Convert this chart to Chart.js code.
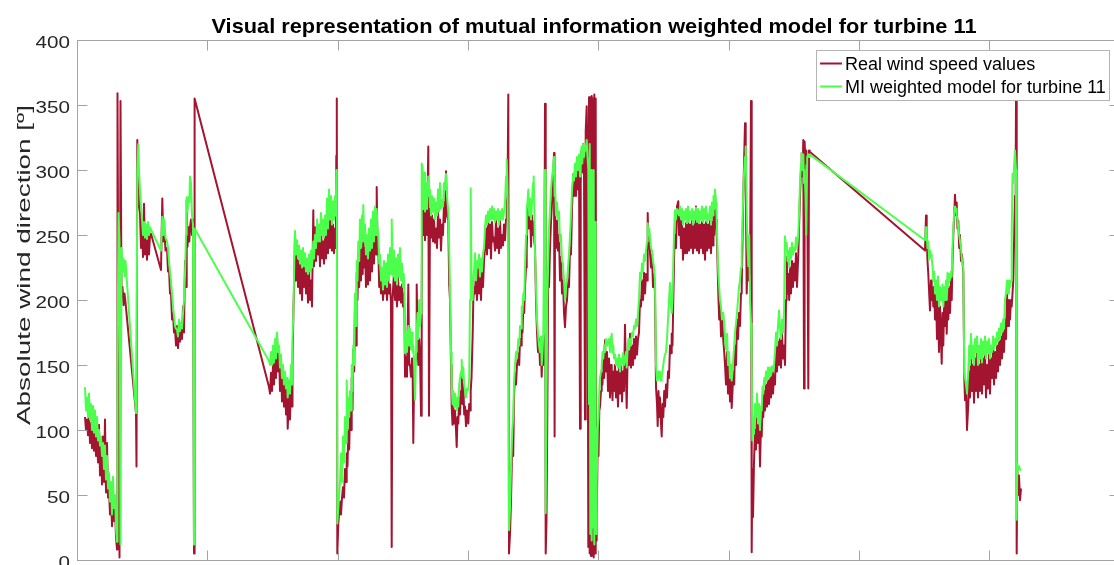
<!DOCTYPE html>
<html>
<head>
<meta charset="utf-8">
<title>MI weighted model – turbine 11</title>
<script src="https://cdn.jsdelivr.net/npm/chart.js@4.4.0/dist/chart.umd.min.js"></script>
<style>
  html, body { margin: 0; padding: 0; background: #fff; width: 1114px; height: 565px; overflow: hidden; }
  canvas { display: block; }
</style>
</head>
<body>
<canvas id="chart" width="1125" height="565"></canvas>
<script>
// Sample position along the record (one unit per sample step on the time axis)
const timeStep = [
  8,9,10,11,12,13,14,15,16,17,
  18,19,20,21,22,23,24,25,26,27,
  28,29,30,31,32,33,34,35,36,37,
  38,39,40,40.5,41.5,42.5,43.5,44.5,45.5,46.5,
  47.5,48.5,59,59.5,60.3,61.3,62,63,64,65,
  66,67,68,69,70,71,72,73,74,84,
  85.3,86.3,87.3,88.5,90,91,92,93,94,95,
  96,97,98,99,100,101,102,103,104,105,
  106,107,108,109,109.7,110.5,111.5,112.3,113,114,
  115,116,117,117.6,192,193,194,195,196,197,
  198,199,200,201,202,203,204,205,206,207,
  208,209,210,210.7,212,213,214,215,215.5,216.5,
  217.3,218,219,220,221,222,223,224,225,226,
  227,228,229,230,231,232,233,234,235,236.3,
  237,238,239,240,241,242,243,244,245,246,
  247,248,249,250,251,252,253,254,255,256,
  257,258,258.8,259.3,259.8,260.3,261.3,263,264,265,
  266,267,268,269,269.7,270.5,271.3,272.2,273,274,
  274.7,275.5,276.3,277.2,278,279,279.7,280.5,281.3,282.2,
  283,284,285,285.7,286.3,287.2,288,289,290,291,
  292,293,294,295,296,297,298,299,299.7,300.5,
  301.3,302.2,303,304,305,306,307,308,309,310,
  311,312,313,314,314.7,315.5,316.3,317,318,319,
  320,321,322,323,324,325,326,326.8,327.5,328,
  329,330,331.3,332.2,333,334,335,335.7,336.3,337.2,
  338,339,339.7,340.5,341.3,342.2,343,344,344.7,345.5,
  346.3,347.2,348,349,350,351.3,352,353,354,355,
  356,357,358,359,360,361,362,363,364,365,
  366,367,368,369,370,371.3,372.2,373,374,374.7,
  375.5,376.3,377.2,378,379,379.7,380.5,381.3,382.2,383,
  384,384.7,385.5,386.3,387.2,388,389,390,391.3,392.2,
  393,393.7,394.5,395.7,396.3,397.2,398,399,400,401,
  402,403,404,405,406,407,408,409,410,411,
  412,413,414,415,416,417,418,419,420,421,
  422,423,424,425,426,427,428,429,429.7,430.5,
  431.3,432,433,434,435.3,436.2,437,438,439,440,
  441.3,442.2,443,444,444.7,445.5,446.3,447.2,448,449,
  449.7,450.5,451.3,452.2,453,454,455,456,456.7,457.3,
  458,459,460,461,462,463,464,464.7,465.5,466.3,
  467.2,468,468.7,469.5,470.3,471.2,472,473,474,475,
  476,477,477.6,478,479,480,481,482,483,484,
  485,486,487,488,489,490,491,492,493,494,
  495,496.3,497,498,499,500,501,502,503,503.7,
  504.5,505.3,506,507,508,508.7,509.7,510.5,511.3,512,
  512.7,513.3,514,514.7,515.3,516,516.7,517.3,518,518.7,
  519.3,519.7,520.7,521.5,522.3,523,524,524.7,525.5,526.3,
  527.2,528,529,530,531,532,533,534,534.7,535.5,
  536.3,537,538,539,540,541,542,543,544,545,
  546,547,548,549,549.7,550.5,551.3,552.2,553,554,
  555,556,557,558,559,560,561,562,563,564,
  565,566,567,568,569,570,570.7,571.5,572.3,573,
  574,575,576,577,578,579,580,580.7,581.5,582.3,
  583,584,584.7,585.5,586.3,587.2,588,589,590,591,
  592,593,594,594.7,595.5,596.3,597.2,598,599,600,
  601.3,602,603,604,605,606,607,608,609,610,
  611,612,613,614,615,616,617,618,619,620,
  621,622,623,624,625,626,627,628,629,630,
  631,632,633,634,635,636,636.5,637.2,638,639,
  639.7,640.5,641.3,642.2,643,644,645,646.3,647.2,648,
  649,650,651,652,653,654,654.7,655.5,656.3,657.2,
  658,659,660,661,662,663,664,664.7,665.5,666.3,
  667.2,668,668.7,669.7,670.5,671.3,672.2,673,674,674.7,
  675.3,676,677,678,679,680,681,682,683,684,
  684.7,685.5,686.3,687.2,688,689,690,691,692,693,
  694,695,696,697,698,699,700,701,702,703,
  704,705,706,707,708,709,709.7,710.5,711.3,712.2,
  713,714,715,716,717,718,719,720,721.3,722.2,
  723,724,724.7,725.5,726.3,727,727.6,728.5,729.3,730.2,
  731.3,732,732.7,848,849,849.7,850.5,851.3,852.2,853,
  854,854.7,855.5,856.3,857.2,858,859,860,861,862,
  863,864,864.7,865.5,866.3,867.2,868,869,869.7,870.5,
  871.3,872.2,873,874,874.7,875.5,876.3,877.2,878,879,
  879.7,880.5,881.3,882.2,883,884,885,886.3,887.3,888,
  889,890,891.3,892.2,893,894,895,896,897,898,
  899,900,901,902,903,904,905,906,907,908,
  909,910,911,912,913,914,915,916,917,918,
  919,920,921,922,923,924,925,926,927,928,
  929,930,931,932,933,934,934.7,935.5,936.3,937.2,
  938,938.7,939,939.7,940.3,941,942,943,944
];

// Measured absolute wind direction [deg]
const realDir = [
  110,100,108,96,112,90,105,86,118,84,
  100,80,98,75,104,65,92,58,95,60,
  108,52,90,48,55,35,50,26,45,30,
  40,18,8,359,158,2,353,205,210,196,
  205,198,113,72,323,297,272,267,240,262,
  233,274,235,256,231,255,235,250,251,223,
  278,245,255,238,240,222,225,205,205,185,
  190,175,178,165,180,163,175,168,182,170,
  195,175,230,210,277,241,256,245,256,262,
  250,262,5,355,133,128,144,130,150,135,
  167,140,174,145,160,130,150,122,148,118,
  140,112,135,101,128,108,140,118,150,195,
  215,251,215,240,210,230,205,235,200,228,
  210,232,205,226,198,225,200,215,195,269,
  226,256,230,248,235,250,226,256,232,245,
  228,252,232,262,236,272,240,265,238,258,
  236,255,240,311,355,5,28,45,35,48,
  56,48,70,60,82,72,100,85,118,100,
  140,115,162,145,200,165,221,200,235,210,
  246,215,240,220,250,225,240,210,235,212,
  245,215,250,222,256,228,265,235,287,240,
  240,210,221,205,218,200,215,205,220,200,
  218,205,212,198,10,200,212,220,200,215,
  195,218,200,210,198,212,195,205,190,141,
  156,141,212,150,150,141,155,140,90,145,
  150,155,212,175,150,170,160,111,200,297,
  250,290,246,275,250,318,111,270,248,265,
  245,262,244,255,240,268,248,262,238,258,
  250,275,260,299,265,261,212,200,150,118,
  104,118,105,115,100,87,110,105,125,112,
  130,144,120,135,112,118,103,115,105,120,
  115,130,140,174,200,210,205,222,200,226,
  205,220,200,225,210,230,240,255,235,262,
  240,258,232,260,245,248,238,262,240,255,
  236,262,240,250,242,258,246,262,275,280,
  358,5,20,45,92,80,125,144,135,150,
  159,150,170,165,179,175,195,190,210,225,
  240,262,279,255,270,241,265,250,260,245,
  241,200,175,160,170,150,162,141,165,150,
  170,351,5,30,110,218,210,240,260,275,
  290,313,95,270,240,261,238,250,215,233,
  205,215,190,179,195,200,215,210,240,235,
  270,297,280,300,280,305,285,310,101,290,
  315,298,320,300,108,330,349,300,10,356,
  5,356,3,357,8,355,2,358,5,355,
  15,30,92,80,115,118,130,146,135,160,
  140,169,145,160,130,155,125,150,140,123,
  145,130,150,125,145,118,150,128,154,122,
  145,130,181,140,117,150,165,150,174,148,
  165,150,170,155,172,158,170,175,200,195,
  215,200,221,205,220,215,267,240,250,236,
  225,235,210,220,205,133,120,103,130,110,
  125,105,95,120,110,130,118,135,125,145,
  140,165,159,174,165,200,236,250,240,272,
  276,250,267,240,262,231,255,236,259,236,
  262,238,258,240,262,236,258,240,272,238,
  260,236,258,240,260,236,258,231,260,238,
  258,240,262,236,260,242,268,250,283,262,
  250,230,205,185,200,172,190,169,160,150,
  135,160,128,150,122,140,117,130,145,135,
  165,150,185,170,190,180,205,210,245,280,
  310,336,300,205,230,215,240,220,353,6,
  70,33,75,100,85,118,90,110,72,105,
  95,120,110,130,115,135,118,138,120,140,
  125,144,128,142,135,165,145,168,150,170,
  148,174,155,165,150,200,233,205,220,200,
  225,205,230,210,228,215,236,210,235,260,
  280,300,313,295,323,132,322,305,315,300,
  132,315,314,238,265,249,230,220,205,192,
  215,200,210,195,210,185,205,170,200,160,
  195,170,151,190,165,200,180,205,174,200,
  185,210,190,215,200,230,250,265,281,265,
  275,255,261,240,250,230,235,221,140,123,
  133,100,120,145,125,160,130,150,121,155,
  130,162,125,150,130,158,128,155,135,160,
  125,150,132,158,128,155,140,162,135,160,
  140,165,145,168,150,172,155,175,160,185,
  170,205,180,200,185,200,195,205,215,250,
  280,300,354,5,69,50,65,46,55
];

// Direction estimated by the mutual-information weighted model [deg]
const miModel = [
  133,115,125,110,128,108,120,100,118,98,
  115,95,110,92,100,88,95,80,90,70,
  88,62,80,55,67,45,60,35,64,40,
  50,25,14,150,267,245,12,240,222,232,
  218,230,113,138,300,320,300,285,272,262,
  250,260,248,258,247,260,250,256,254,238,
  264,250,262,248,245,240,230,222,215,205,
  195,188,180,178,177,172,185,176,182,178,
  190,200,220,250,279,268,279,275,295,290,
  265,258,12,255,153,150,160,150,165,152,
  170,155,175,160,165,148,158,140,150,135,
  145,132,140,125,138,128,150,135,170,195,
  230,253,235,246,232,242,228,238,225,240,
  226,236,222,232,220,235,222,238,225,245,
  232,250,240,262,245,258,245,267,250,262,
  248,265,250,278,255,285,262,280,258,276,
  262,280,265,300,298,28,40,60,82,60,
  95,75,110,90,138,100,125,110,130,115,
  150,130,165,150,205,180,230,215,245,230,
  262,240,265,245,273,245,258,235,250,232,
  255,238,262,240,268,245,272,250,270,255,
  250,228,235,215,225,208,230,212,228,210,
  235,215,240,220,262,230,218,238,215,232,
  212,235,218,240,215,228,210,220,205,159,
  175,160,180,165,178,162,175,160,165,150,
  123,160,175,190,170,200,180,190,305,302,
  270,298,268,290,270,295,280,285,265,280,
  268,278,262,275,265,285,268,290,270,277,
  272,290,285,297,280,268,240,210,160,133,
  120,130,118,128,120,115,125,118,135,140,
  145,154,140,148,135,130,125,132,131,140,
  200,286,220,200,215,225,236,215,230,225,
  235,218,232,222,236,240,256,265,258,268,
  260,270,262,272,262,270,260,268,262,270,
  258,268,262,270,262,268,275,295,308,285,
  200,23,40,70,100,110,135,150,160,155,
  170,165,180,178,195,190,205,200,225,250,
  270,275,285,265,278,262,275,290,295,270,
  235,210,185,174,165,160,172,150,160,175,
  260,300,36,120,200,230,255,270,285,295,
  300,310,280,290,265,275,262,268,245,250,
  230,228,215,200,210,215,225,235,250,265,
  285,297,292,305,295,310,300,312,295,305,
  318,305,320,310,318,315,323,310,300,120,
  320,20,300,15,200,25,300,12,260,30,
  20,60,100,110,130,140,145,149,160,155,
  165,160,170,165,168,170,160,172,174,160,
  165,155,158,150,155,148,158,145,155,150,
  159,150,155,160,148,160,170,162,170,165,
  175,172,180,178,185,180,190,200,221,215,
  228,222,235,230,238,245,259,250,255,248,
  240,238,230,225,215,150,138,140,145,140,
  145,138,142,145,150,155,158,160,170,185,
  200,213,195,190,200,230,255,269,262,270,
  268,265,272,262,270,258,268,262,270,259,
  272,260,268,262,270,258,268,262,271,260,
  270,259,268,262,272,260,270,262,272,260,
  266,262,272,258,275,265,280,270,285,275,
  262,240,221,210,200,195,185,190,182,170,
  162,174,150,160,140,150,138,145,155,165,
  175,182,190,200,210,215,225,240,260,285,
  300,310,318,270,240,226,250,200,182,150,
  92,110,97,120,110,128,105,120,100,118,
  115,133,128,140,135,145,138,148,140,148,
  142,149,145,150,160,175,165,180,192,178,
  170,185,175,190,249,240,244,230,238,225,
  240,232,244,235,240,238,248,240,250,270,
  290,305,313,300,312,290,300,280,250,310,
  312,310,312,246,256,250,240,245,231,238,
  235,232,226,215,222,205,215,200,218,195,
  210,200,205,212,195,210,200,215,200,221,
  210,220,215,222,218,240,255,268,272,270,
  265,262,255,250,245,240,230,225,144,140,
  135,128,145,165,150,174,155,165,150,170,
  160,172,150,165,155,170,152,168,158,172,
  155,168,160,170,155,165,160,172,162,170,
  165,175,168,178,170,182,175,185,178,200,
  205,215,205,215,210,215,250,297,290,305,
  315,315,300,31,74,69,72,70,69
];

// Axis ticks
const yTickValues = [0, 50, 100, 150, 200, 250, 300, 350, 400];
const yTickLabels = ['0', '50', '100', '150', '200', '250', '300', '350', '400'];
const xTickCount = 8;          // major divisions along the time axis
const xTickSpacing = 130.3;    // samples between time-axis ticks

const seriesNames = ['Real wind speed values', 'MI weighted model for turbine 11'];
const chartTitle = 'Visual representation of mutual information weighted model for turbine 11';
const yAxisTitle = 'Absolute wind direction [º]';

const RED = '#a2142f';
const GREEN = '#4dff4d';
const AXIS_LINE = '#a3a3a3';
const TEXT_DARK = '#262626';
const SANS = '"Liberation Sans", Arial, Helvetica, sans-serif';
const STRETCH = 1.25;  // figure text is set slightly wide

function toPoints(ys) {
  return timeStep.map((t, i) => ({ x: t, y: ys[i] }));
}

// Draw text widened along its reading direction
function wideText(ctx, txt, x, y, font, sx, align, color, angle = 0) {
  ctx.save();
  ctx.font = font;
  ctx.fillStyle = color;
  ctx.textAlign = align;
  ctx.textBaseline = 'alphabetic';
  ctx.translate(x, y);
  if (angle) ctx.rotate(angle);
  ctx.scale(sx, 1);
  ctx.fillText(txt, 0, 0);
  ctx.restore();
}

// Boxed axes with inward ticks, tick labels, titles and a boxed legend
const figureDecor = {
  id: 'figureDecor',
  afterDraw(chart) {
    const { ctx, chartArea: a, scales: { x, y } } = chart;
    const L = Math.round(a.left) + 0.5, R = Math.round(a.right) + 0.5;
    const T = Math.round(a.top) + 0.5, B = Math.round(a.bottom) + 0.5;
    ctx.save();
    ctx.lineWidth = 1;
    ctx.strokeStyle = AXIS_LINE;
    ctx.strokeRect(L, T, R - L, B - T);
    ctx.beginPath();
    yTickValues.forEach(v => {
      const py = Math.round(y.getPixelForValue(v)) + 0.5;
      ctx.moveTo(L, py); ctx.lineTo(L + 10, py);
      ctx.moveTo(R, py); ctx.lineTo(R - 10, py);
    });
    for (let k = 0; k <= xTickCount; k++) {
      const px = Math.round(x.getPixelForValue(k * xTickSpacing)) + 0.5;
      ctx.moveTo(px, T); ctx.lineTo(px, T + 10);
      ctx.moveTo(px, B); ctx.lineTo(px, B - 10);
    }
    ctx.stroke();

    // y tick labels
    yTickValues.forEach((v, i) => {
      const py = y.getPixelForValue(v);
      wideText(ctx, yTickLabels[i], a.left - 7, py + 8, '16.5px ' + SANS, STRETCH, 'right', TEXT_DARK);
    });

    // y axis title, rotated and widened along its length
    const yFont = '18.5px ' + SANS;
    ctx.font = yFont;
    const ysx = 320 / ctx.measureText(yAxisTitle).width;
    wideText(ctx, yAxisTitle, 29.5, 265, yFont, ysx, 'center', TEXT_DARK, -Math.PI / 2);

    // title
    const tFont = 'bold 21px ' + SANS;
    ctx.font = tFont;
    const tsx = 765 / ctx.measureText(chartTitle).width;
    wideText(ctx, chartTitle, 594, 32.5, tFont, tsx, 'center', '#000');

    // legend
    const lx = 816.5, ly = 50.5, lw = 293, lh = 50;
    ctx.fillStyle = '#fff';
    ctx.fillRect(lx, ly, lw, lh);
    ctx.strokeStyle = '#b4b4b4';
    ctx.strokeRect(lx, ly, lw, lh);
    const lFont = '17.5px ' + SANS;
    ctx.font = lFont;
    const lsx = (190 + 261) / (ctx.measureText(seriesNames[0]).width + ctx.measureText(seriesNames[1]).width);
    [[RED, 63.5, 70], [GREEN, 86.5, 92.7]].forEach(([col, ry, base], i) => {
      ctx.strokeStyle = col;
      ctx.lineWidth = 2;
      ctx.beginPath();
      ctx.moveTo(820, ry); ctx.lineTo(842, ry);
      ctx.stroke();
      wideText(ctx, seriesNames[i], 845, base, lFont, lsx, 'left', '#000');
    });
    ctx.restore();
  }
};

new Chart(document.getElementById('chart'), {
  type: 'line',
  data: {
    datasets: [
      { label: seriesNames[0], data: toPoints(realDir), borderColor: RED, backgroundColor: RED,
        borderWidth: 2, pointRadius: 0, order: 1 },
      { label: seriesNames[1], data: toPoints(miModel), borderColor: GREEN, backgroundColor: GREEN,
        borderWidth: 2, pointRadius: 0, order: 0 }
    ]
  },
  options: {
    responsive: false,
    animation: false,
    events: [],
    layout: { padding: { left: 77, top: 40, right: 1125 - 1119.4, bottom: 5 } },
    elements: { line: { tension: 0, borderJoinStyle: 'round', borderCapStyle: 'butt' } },
    scales: {
      x: { type: 'linear', display: false, min: 0, max: xTickCount * xTickSpacing },
      y: { type: 'linear', display: false, min: 0, max: 400 }
    },
    plugins: { legend: { display: false }, tooltip: { enabled: false }, title: { display: false } }
  },
  plugins: [figureDecor]
});
</script>
</body>
</html>
